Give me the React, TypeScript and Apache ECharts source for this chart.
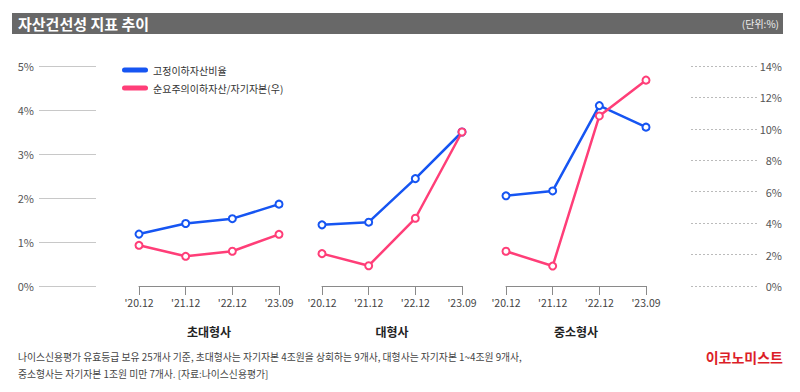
import React, { useEffect, useRef } from "react";
import * as echarts from "echarts";

const periods = ["'20.12", "'21.12", "'22.12", "'23.09"];
const groups = ["초대형사", "대형사", "중소형사"];
const seriesNames = ["고정이하자산비율", "순요주의이하자산/자기자본(우)"];
// 고정이하자산비율 (left axis, %)
const fixedBelow = [
  [1.18, 1.42, 1.53, 1.86],
  [1.39, 1.45, 2.44, 3.5],
  [2.05, 2.16, 4.1, 3.61],
];
// 순요주의이하자산/자기자본 (right axis, %)
const cautionBelow = [
  [2.59, 1.89, 2.21, 3.29],
  [2.06, 1.29, 4.31, 9.8],
  [2.21, 1.27, 10.82, 13.1],
];
const leftTicks = { min: 0, max: 5, interval: 1 };
const rightTicks = { min: 0, max: 14, interval: 2 };

const BLUE = "#1655f2";
const PINK = "#ff3e78";
const FONT = "'Noto Sans CJK KR', 'Noto Sans', sans-serif";

export default function App() {
  const ref = useRef<HTMLDivElement>(null);
  useEffect(() => {
    const chart = echarts.init(ref.current!, null, { renderer: "svg" });
    const groupLefts = [139, 322, 506];
    const grids: any[] = [
      { left: 39, width: 57, top: 66, height: 220 },
      { left: 691, width: 68, top: 66, height: 220 },
      ...groupLefts.map((l) => ({ left: l, width: 140, top: 66, height: 220 })),
    ];
    const xAxes: any[] = [
      { gridIndex: 0, type: "value", show: false },
      { gridIndex: 1, type: "value", show: false },
      ...groups.map((g, i) => ({
        gridIndex: i + 2,
        type: "category",
        data: periods,
        boundaryGap: false,
        axisLine: { lineStyle: { color: "#8a8a8a", width: 1 } },
        axisTick: { show: true, length: 9, lineStyle: { color: "#8a8a8a" } },
        axisLabel: { color: "#444", fontSize: 10.5, margin: 11, fontFamily: FONT },
        name: g,
        nameLocation: "middle",
        nameGap: 39,
        nameTextStyle: { color: "#222", fontSize: 12, fontWeight: "bold", fontFamily: FONT },
      })),
    ];
    const yAxes: any[] = [
      {
        gridIndex: 0,
        type: "value",
        ...leftTicks,
        axisLine: { show: false },
        axisTick: { show: false },
        axisLabel: { formatter: "{value}%", color: "#555", fontSize: 11, margin: 5, fontFamily: FONT },
        splitLine: { lineStyle: { color: "#c8c8c8", width: 1 } },
      },
      {
        gridIndex: 1,
        type: "value",
        position: "right",
        ...rightTicks,
        axisLine: { show: false },
        axisTick: { show: false },
        axisLabel: {
          formatter: "{value}%",
          color: "#555",
          fontSize: 11,
          margin: 23,
          align: "right",
          fontFamily: FONT,
        },
        splitLine: { lineStyle: { color: "#bbbbbb", width: 1, type: [2, 2] } },
      },
    ];
    groups.forEach((_, i) => {
      yAxes.push({ gridIndex: i + 2, type: "value", ...leftTicks, show: false, splitLine: { show: false } });
      yAxes.push({ gridIndex: i + 2, type: "value", ...rightTicks, show: false, splitLine: { show: false } });
    });
    const series: any[] = [];
    groups.forEach((_, i) => {
      series.push({
        name: seriesNames[0],
        type: "line",
        xAxisIndex: i + 2,
        yAxisIndex: 2 + i * 2,
        data: fixedBelow[i],
        symbol: "emptyCircle",
        symbolSize: 7,
        color: BLUE,
        lineStyle: { color: BLUE, width: 2.5 },
        itemStyle: { color: BLUE, borderWidth: 2 },
        z: 3,
      });
      series.push({
        name: seriesNames[1],
        type: "line",
        xAxisIndex: i + 2,
        yAxisIndex: 3 + i * 2,
        data: cautionBelow[i],
        symbol: "emptyCircle",
        symbolSize: 7,
        color: PINK,
        lineStyle: { color: PINK, width: 2.5 },
        itemStyle: { color: PINK, borderWidth: 2 },
        z: 4,
      });
    });
    chart.setOption({
      animation: false,
      textStyle: { fontFamily: FONT },
      grid: grids,
      xAxis: xAxes,
      yAxis: yAxes,
      series,
      legend: {
        orient: "vertical",
        left: 122,
        top: 64,
        padding: 0,
        itemGap: 6,
        itemWidth: 26,
        itemHeight: 5,
        icon: "path://M2.5,0 H23.5 A2.5,2.5 0 0 1 23.5,5 H2.5 A2.5,2.5 0 0 1 2.5,0 Z",
        textStyle: { color: "#333", fontSize: 10, lineHeight: 12, fontFamily: FONT },
        data: [
          { name: seriesNames[0], itemStyle: { color: BLUE } },
          { name: seriesNames[1], itemStyle: { color: PINK } },
        ],
      },
      graphic: [
        { type: "rect", shape: { x: 12, y: 13, width: 771, height: 21 }, style: { fill: "#686868" } },
        {
          type: "text",
          x: 18,
          y: 23.5,
          style: {
            text: "자산건선성 지표 추이",
            fill: "#fff",
            font: `bold 15px ${FONT}`,
            verticalAlign: "middle",
          },
        },
        {
          type: "text",
          x: 779,
          y: 23.5,
          style: {
            text: "(단위:%)",
            fill: "#eee",
            font: `10px ${FONT}`,
            align: "right",
            verticalAlign: "middle",
          },
        },
        {
          type: "text",
          x: 18,
          y: 357,
          style: {
            text: "나이스신용평가 유효등급 보유 25개사 기준, 초대형사는 자기자본 4조원을 상회하는 9개사, 대형사는 자기자본 1~4조원 9개사,",
            fill: "#444",
            font: `9.8px ${FONT}`,
            verticalAlign: "middle",
          },
        },
        {
          type: "text",
          x: 18,
          y: 374,
          style: {
            text: "중소형사는 자기자본 1조원 미만 7개사. [자료:나이스신용평가]",
            fill: "#444",
            font: `9.8px ${FONT}`,
            verticalAlign: "middle",
          },
        },
        {
          type: "text",
          x: 783,
          y: 357,
          style: {
            text: "이코노미스트",
            fill: "#dc1e28",
            font: `bold 14px ${FONT}`,
            align: "right",
            verticalAlign: "middle",
          },
        },
      ],
    });
    return () => chart.dispose();
  }, []);
  return (
    <div
      ref={ref}
      style={{ position: "fixed", left: 0, top: 0, width: 800, height: 392, background: "#fff" }}
    />
  );
}
